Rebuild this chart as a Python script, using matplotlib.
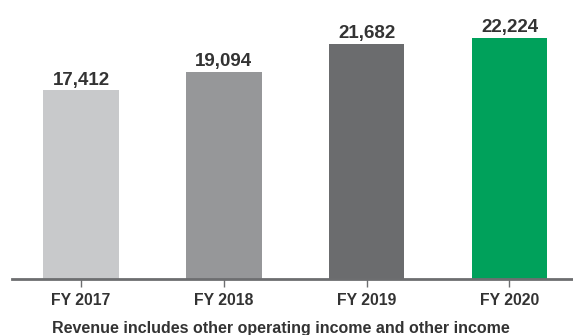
"""
Revenue by fiscal year, bar chart.
"""
import matplotlib.pyplot as plt

################################################################################
# DATA
################################################################################

years = ["FY 2017", "FY 2018", "FY 2019", "FY 2020"]
revenue = [17412, 19094, 21682, 22224]
bar_colors = ["#c8c9cb", "#969799", "#6b6c6e", "#00a15b"]
footnote = "Revenue includes other operating income and other income"

################################################################################
# PLOTTING
################################################################################

plt.rcParams["font.family"] = ["Liberation Sans", "DejaVu Sans"]
text_color = "#333333"
axis_color = "#6d6e70"

fig = plt.figure(figsize=(5.73, 3.35), dpi=100)
ax = fig.add_axes([12 / 573, 56 / 335, 1 - 12 / 573, 279 / 335])

x = range(len(years))
bars = ax.bar(x, revenue, width=0.53, color=bar_colors, zorder=2)

# Value labels above bars.
for xi, val in zip(x, revenue):
    ax.annotate(f"{val:,}", (xi, val), xytext=(0, 1), textcoords="offset points",
                ha="center", va="bottom", fontsize=13.5, fontweight="bold",
                color=text_color)

# Aesthetics.
ax.set_xlim(-0.483, 3.445)
ax.set_ylim(0, 25700)
for side in ["left", "right", "top"]:
    ax.spines[side].set_visible(False)
ax.spines["bottom"].set_color(axis_color)
ax.spines["bottom"].set_linewidth(2)
ax.set_yticks([])
ax.set_xticks(list(x))
ax.set_xticklabels(years, fontsize=11.3, fontweight="bold", color=text_color)
ax.tick_params(axis="x", length=6, width=1, color=axis_color, pad=4)

fig.text(280.5 / 573, 2 / 335, footnote, ha="center", va="baseline",
         fontsize=11.5, fontweight="bold", color=text_color)

################################################################################
# EXPORT
################################################################################

fig.savefig("out.png", dpi=100)
